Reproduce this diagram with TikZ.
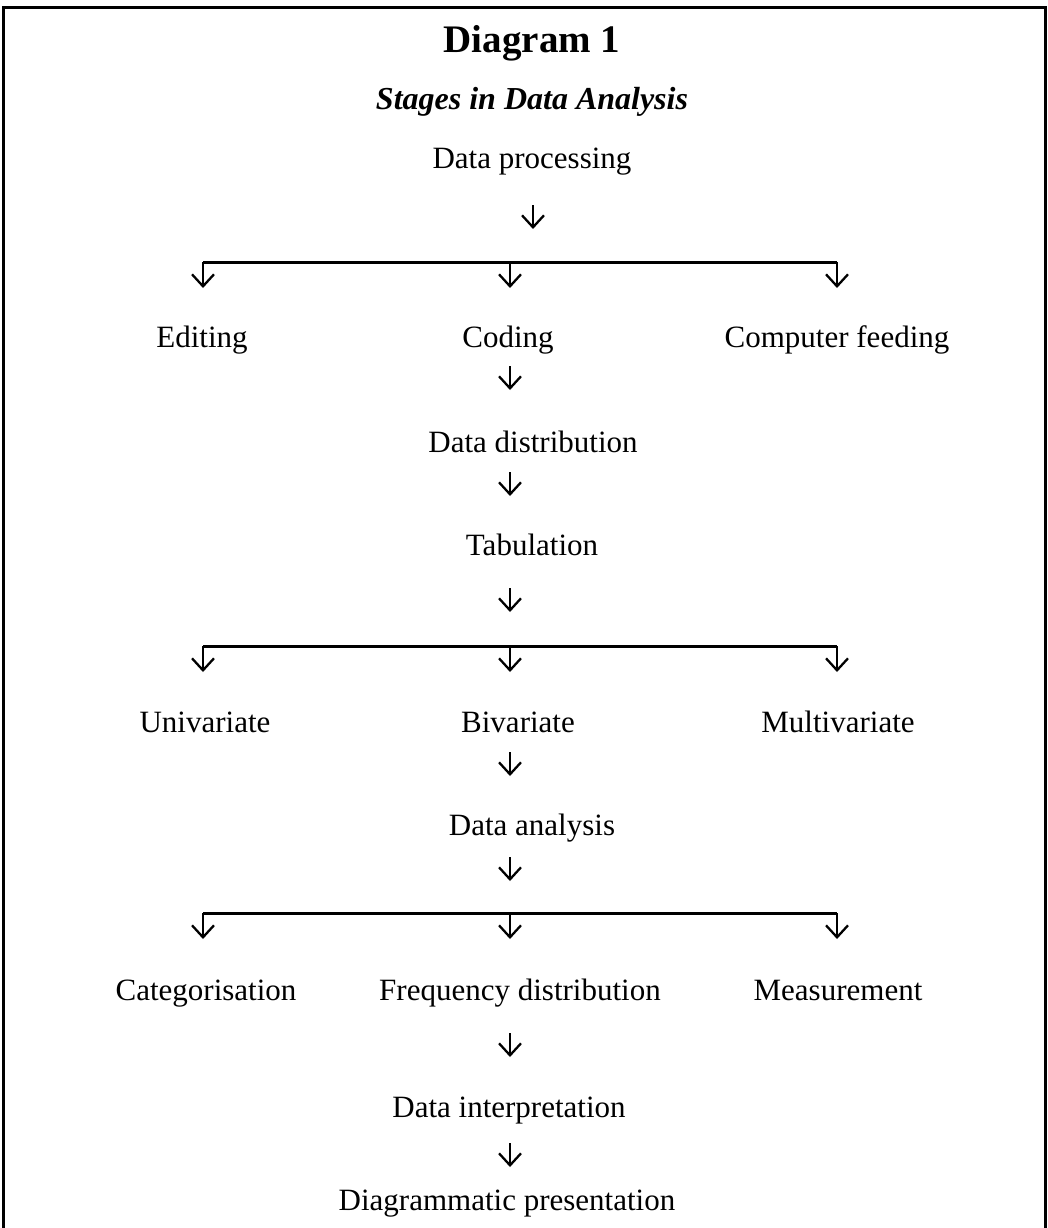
\documentclass[tikz,border=0pt]{standalone}
\usepackage{fontspec}
\setmainfont{Liberation Serif}
\usetikzlibrary{arrows.meta}
\begin{document}
\begin{tikzpicture}[x=1pt,y=-1pt,
  lbl/.style={font=\fontsize{31}{36}\selectfont, anchor=base, inner sep=0pt},
  arr/.style={line width=2.3pt, -{Straight Barb[length=12pt,width=22pt,line width=2.3pt]}},
  bar/.style={line width=3pt},
  frame/.style={line width=3pt}]
\useasboundingbox (0,0) rectangle (1048,1228);
% frame (open at bottom)
\coordinate (fbl) at (3,1230);
\coordinate (ftl) at (3,7.5);
\coordinate (ftr) at (1045.5,7.5);
\coordinate (fbr) at (1045.5,1230);
\draw[frame] (fbl) -- (ftl) -- (ftr) -- (fbr);

% titles
\node[lbl, font=\bfseries\fontsize{39}{44}\selectfont] (title) at (532,53) {Diagram 1};
\node[lbl, font=\bfseries\itshape\fontsize{32}{38}\selectfont] (sub) at (532,110) {Stages in Data Analysis};

% labels
\node[lbl] (dp) at (532,168) {Data processing};
\node[lbl] (edit) at (202,347) {Editing};
\node[lbl] (cod) at (508,347) {Coding};
\node[lbl] (cfeed) at (837,347) {Computer feeding};
\node[lbl] (ddist) at (533,452) {Data distribution};
\node[lbl] (tab) at (532,555) {Tabulation};
\node[lbl] (uni) at (205,732) {Univariate};
\node[lbl] (biv) at (518,732) {Bivariate};
\node[lbl] (multi) at (838,732) {Multivariate};
\node[lbl] (dan) at (532,835) {Data analysis};
\node[lbl] (cat) at (206,1000) {Categorisation};
\node[lbl] (freq) at (520,1000) {Frequency distribution};
\node[lbl] (meas) at (838,1000) {Measurement};
\node[lbl] (dint) at (509,1117) {Data interpretation};
\node[lbl] (diag) at (507,1210) {Diagrammatic presentation};

% single arrows
\coordinate (a1s) at (533,205);  \coordinate (a1e) at (533,229);
\coordinate (a2s) at (510,366);  \coordinate (a2e) at (510,390);
\coordinate (a3s) at (510,472);  \coordinate (a3e) at (510,496);
\coordinate (a4s) at (510,588);  \coordinate (a4e) at (510,612);
\coordinate (a5s) at (510,752);  \coordinate (a5e) at (510,776);
\coordinate (a6s) at (510,857);  \coordinate (a6e) at (510,881);
\coordinate (a7s) at (510,1033); \coordinate (a7e) at (510,1057);
\coordinate (a8s) at (510,1143); \coordinate (a8e) at (510,1167);
\foreach \i in {1,...,8} { \draw[arr] (a\i s) -- (a\i e); }

% branch bars
\foreach \n/\y in {1/262,2/646,3/913} {
  \coordinate (b\n l) at (203,\y);
  \coordinate (b\n m) at (510,\y);
  \coordinate (b\n r) at (837,\y);
  \coordinate (d\n l) at (203,\y+26);
  \coordinate (d\n m) at (510,\y+26);
  \coordinate (d\n r) at (837,\y+26);
  \draw[bar] (b\n l) -- (b\n r);
  \draw[arr] (b\n l) -- (d\n l);
  \draw[arr] (b\n m) -- (d\n m);
  \draw[arr] (b\n r) -- (d\n r);
}
\end{tikzpicture}
\end{document}
